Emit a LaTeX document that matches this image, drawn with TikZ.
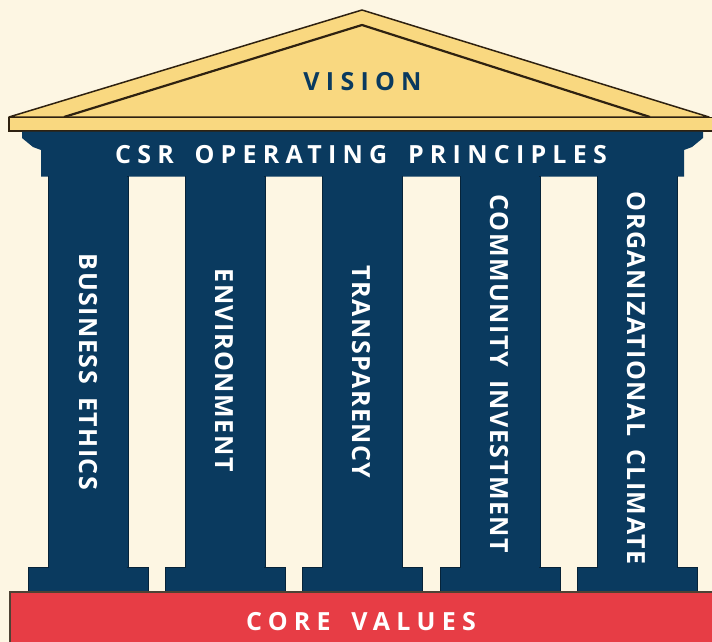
\documentclass[tikz,border=0pt]{standalone}
\usepackage{fontspec}
\setmainfont{Open Sans}
\newfontfamily\headfont[LetterSpace=25]{Open Sans}
\newfontfamily\colfont[LetterSpace=6]{Open Sans}

\definecolor{cream}{HTML}{FDF6E3}
\definecolor{gold}{HTML}{F9D880}
\definecolor{navy}{HTML}{0A3A5F}
\definecolor{brick}{HTML}{E73D45}
\definecolor{ink}{HTML}{2E2110}

\newcommand{\wgap}{\hspace{8pt}}
\newcommand{\cgap}{\hspace{5pt}}

\tikzset{
  headtxt/.style={inner sep=0pt, anchor=base, font=\headfont\bfseries\fontsize{25}{30}\selectfont},
  coltxt/.style={inner sep=0pt, text=white, rotate=-90, anchor=base,
                 font=\colfont\bfseries\fontsize{25}{30}\selectfont},
  pillar/.style={fill=navy, draw=navy!60!black, line width=0.8pt},
}

\begin{document}
\begin{tikzpicture}[x=1pt,y=-1pt]
  % canvas
  \fill[cream] (0,0) rectangle (712,642);
  \useasboundingbox (0,0) rectangle (712,642);

  % pediment
  \filldraw[fill=gold, draw=ink, line width=1.5pt, line join=round]
    (9,117) -- (362,10) -- (709,117) -- cycle;
  \draw[ink, line width=2.2pt, line join=round] (64,117) -- (362,25) -- (650,117);
  % cornice strip
  \filldraw[fill=gold, draw=ink, line width=1.4pt] (9,117.5) rectangle (716,131);

  % capital / architrave
  \fill[navy] (22,131.5) -- (703,131.5) -- (703,138) -- (692,147) -- (684,150)
    -- (684,176.5) -- (41,176.5) -- (41,150) -- (33,147) -- (22,138) -- cycle;

  % shafts and plinths
  \foreach \c in {88,225,362.5,500,637.5} {
    \filldraw[pillar] (\c-40,176) rectangle (\c+40,567);
    \filldraw[pillar] (\c-60,567) rectangle (\c+60,591.5);
    \fill[navy] (\c-39.4,170) rectangle (\c+39.4,590);
  }

  % foundation
  \filldraw[fill=brick, draw=ink!85, line width=1.2pt] (10,592) rectangle (720,650);

  % labels
  \node[headtxt, text=navy] (vision) at (362.5,90) {VISION};
  \node[headtxt, text=white] (csr) at (361,163) {CSR \wgap OPERATING \wgap PRINCIPLES};
  \node[headtxt, text=white] (core) at (361,630) {CORE \wgap VALUES};

  \node[coltxt] (ethics) at (79,372) {BUSINESS \cgap ETHICS};
  \node[coltxt] (env) at (215,370) {ENVIRONMENT};
  \node[coltxt] (transp) at (352,372) {TRANSPARENCY};
  \node[coltxt] (community) at (490,374) {COMMUNITY \cgap INVESTMENT};
  \node[coltxt] (climate) at (627,378) {ORGANIZATIONAL \cgap CLIMATE};
\end{tikzpicture}
\end{document}
